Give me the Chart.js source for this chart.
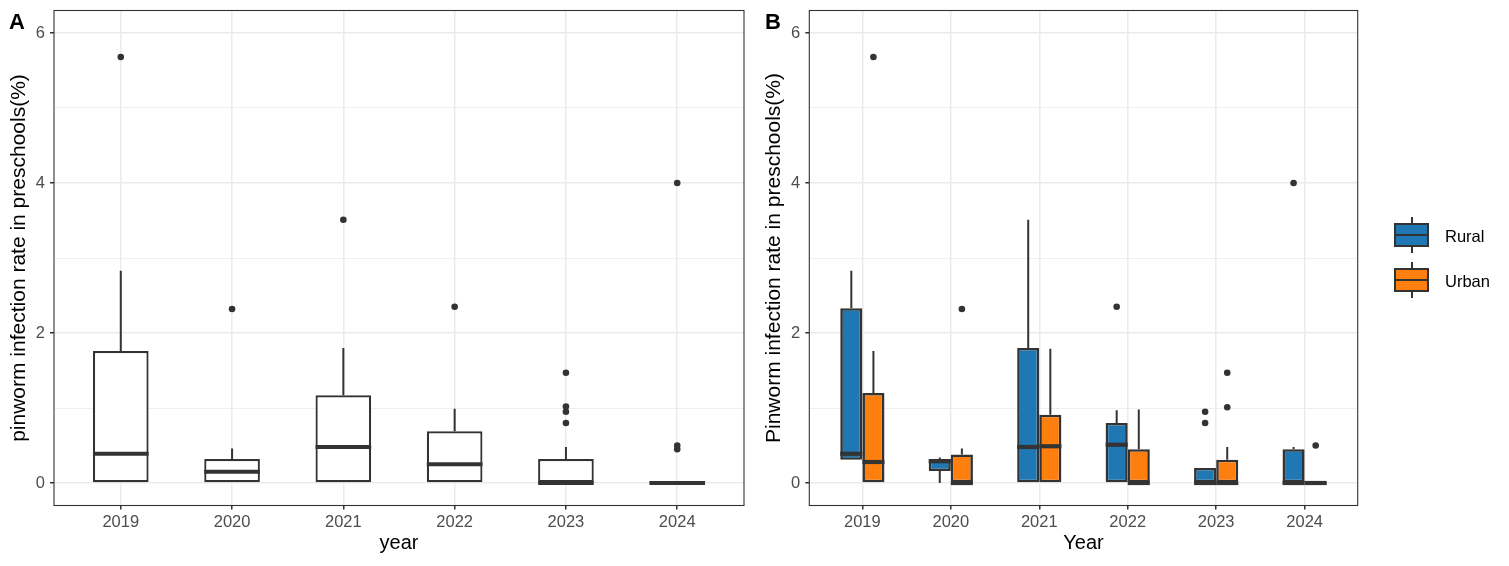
<!DOCTYPE html>
<html>
<head>
<meta charset="utf-8">
<script src="https://cdn.jsdelivr.net/npm/chart.js@4.4.1/dist/chart.umd.min.js"></script>
<style>
  body { margin: 0; background: #fff; width: 1509px; height: 566px; position: relative; overflow: hidden;
         font-family: Arial, 'Liberation Sans', sans-serif; }
  canvas { position: absolute; top: 0; }
  #chartA { left: 0; }
  #chartB { left: 755px; }
  .tag { position: absolute; top: 10.5px; font-size: 22px; font-weight: bold; line-height: 1; color: #000; }
  .key { position: absolute; }
  .whisk { position: absolute; left: 16.5px; width: 2px; height: 36px; top: 0; background: #333; }
  .kbox { position: absolute; left: 0; top: 6px; width: 35px; height: 24px; box-sizing: border-box; border: 2px solid #333; }
  .kmed { position: absolute; left: 0; top: 17px; width: 35px; height: 2px; background: #333; }
  .ktext { position: absolute; left: 51px; font-size: 16.5px; line-height: 16px; color: #000; }
</style>
</head>
<body>
<canvas id="chartA" width="755" height="566"></canvas>
<canvas id="chartB" width="754" height="566"></canvas>
<div class="tag" style="left:9px">A</div>
<div class="tag" style="left:765px">B</div>

<div class="key" style="left:1394px; top:217px">
  <div class="whisk"></div><div class="kbox" style="background:#1F77B4"></div><div class="kmed"></div>
  <div class="ktext" style="top:11px">Rural</div>
</div>
<div class="key" style="left:1394px; top:262px">
  <div class="whisk"></div><div class="kbox" style="background:#FF7F0E"></div><div class="kmed"></div>
  <div class="ktext" style="top:11px">Urban</div>
</div>

<script>
// categories and tick labels
const years = ['2019', '2020', '2021', '2022', '2023', '2024'];
const yTicks = [0, 2, 4, 6];
const yMinorTicks = [1, 3, 5];

// panel A: all preschools
const allLo  = [0, 0, 0, 0, 0, 0];
const allQ1  = [0, 0, 0, 0, 0, 0];
const allMed = [0.39, 0.15, 0.48, 0.25, 0, 0];
const allQ3  = [1.76, 0.32, 1.17, 0.69, 0.32, 0];
const allHi  = [2.83, 0.46, 1.80, 0.99, 0.48, 0];
const allOut = [[5.68], [2.32], [3.51], [2.35], [1.47, 1.02, 0.95, 0.80], [4.0, 0.50, 0.45]];

// panel B: rural
const ruralLo  = [0.31, 0, 0, 0, 0, 0];
const ruralQ1  = [0.31, 0.16, 0, 0, 0, 0];
const ruralMed = [0.39, 0.29, 0.48, 0.51, 0, 0];
const ruralQ3  = [2.33, 0.32, 1.80, 0.80, 0.20, 0.45];
const ruralHi  = [2.83, 0.34, 3.51, 0.97, 0.20, 0.48];
const ruralOut = [[], [], [], [2.35], [0.95, 0.80], [4.0]];

// panel B: urban
const urbanLo  = [0, 0, 0, 0, 0, 0];
const urbanQ1  = [0, 0, 0, 0, 0, 0];
const urbanMed = [0.28, 0, 0.49, 0, 0, 0];
const urbanQ3  = [1.20, 0.38, 0.91, 0.45, 0.31, 0];
const urbanHi  = [1.76, 0.46, 1.79, 0.98, 0.48, 0];
const urbanOut = [[5.68], [2.32], [], [], [1.47, 1.01], [0.50]];

const dark = '#333333';

Chart.defaults.font.family = "Arial, 'Liberation Sans', sans-serif";
Chart.defaults.animation = false;
Chart.defaults.events = [];
Chart.defaults.plugins.legend.display = false;
Chart.defaults.plugins.tooltip.enabled = false;

function boxData(q1, q3) {
  return q1.map((v, i) => ({ x: i, y: [v, q3[i]] }));
}

function outlierData(out, shift) {
  let pts = [];
  out.forEach((vals, i) => vals.forEach(v => pts.push({ x: i + shift, y: v })));
  return pts;
}

// whiskers, medians and panel frame, drawn from the bar elements and the y scale
function drawParts(chart, part) {
  const ctx = chart.ctx;
  const ys = chart.scales.y;
  chart.data.datasets.forEach((ds, di) => {
    if (!ds.box) return;
    const meta = chart.getDatasetMeta(di);
    meta.data.forEach((bar, i) => {
      ctx.save();
      ctx.strokeStyle = dark;
      ctx.lineCap = 'butt';
      if (part === 'whisker') {
        ctx.lineWidth = 2;
        ctx.beginPath();
        ctx.moveTo(bar.x, ys.getPixelForValue(ds.box.hi[i]));
        ctx.lineTo(bar.x, ys.getPixelForValue(ds.box.q3[i]));
        ctx.moveTo(bar.x, ys.getPixelForValue(ds.box.lo[i]));
        ctx.lineTo(bar.x, ys.getPixelForValue(ds.box.q1[i]));
        ctx.stroke();
      } else {
        const y = ys.getPixelForValue(ds.box.med[i]);
        ctx.lineWidth = 4.2;
        ctx.beginPath();
        ctx.moveTo(bar.x - bar.width / 2, y);
        ctx.lineTo(bar.x + bar.width / 2, y);
        ctx.stroke();
      }
      ctx.restore();
    });
  });
}

const boxParts = {
  id: 'boxParts',
  beforeDatasetsDraw(chart) { drawParts(chart, 'whisker'); },
  afterDatasetsDraw(chart) {
    drawParts(chart, 'median');
    const a = chart.chartArea;
    const ctx = chart.ctx;
    ctx.save();
    ctx.strokeStyle = dark;
    ctx.lineWidth = 1.1;
    ctx.strokeRect(a.left, a.top, a.right - a.left, a.bottom - a.top);
    ctx.restore();
  }
};

function xAxis(titleText) {
  return {
    type: 'linear',
    offset: false,
    min: -0.6,
    max: years.length - 0.4,
    afterBuildTicks: s => { s.ticks = years.map((y, i) => ({ value: i })); },
    afterFit: s => { s.height = 60.5; s.paddingLeft = 0; s.paddingRight = 0; },
    grid: { offset: false, color: '#EBEBEB', lineWidth: 1.5, tickColor: dark, tickLength: 4 },
    border: { display: false },
    ticks: {
      color: '#4D4D4D', font: { size: 16.5 }, padding: 3,
      maxRotation: 0, autoSkip: false,
      callback: v => years[v]
    },
    title: { display: true, text: titleText, color: '#000', font: { size: 20 }, padding: { top: 0, bottom: 11 } }
  };
}

function yAxis(titleText, width) {
  return {
    type: 'linear',
    min: -0.3,
    max: 6.3,
    afterBuildTicks: s => {
      s.ticks = yTicks.concat(yMinorTicks).sort((a, b) => a - b).map(v => ({ value: v }));
    },
    afterFit: s => { s.width = width; s.paddingTop = 0; s.paddingBottom = 0; },
    grid: {
      color: '#EBEBEB',
      lineWidth: c => (c.tick && yTicks.includes(c.tick.value)) ? 1.5 : 0.8,
      tickColor: c => (c.tick && yTicks.includes(c.tick.value)) ? dark : 'rgba(0,0,0,0)',
      tickLength: 4
    },
    border: { display: false },
    ticks: {
      color: '#4D4D4D', font: { size: 16.5 }, padding: 5,
      callback: v => yTicks.includes(v) ? String(v) : ''
    },
    title: { display: true, text: titleText, color: '#000', font: { size: 21 }, padding: { top: 7, bottom: 0 } }
  };
}

new Chart(document.getElementById('chartA'), {
  type: 'bar',
  data: {
    datasets: [
      {
        data: boxData(allQ1, allQ3),
        box: { lo: allLo, q1: allQ1, med: allMed, q3: allQ3, hi: allHi },
        backgroundColor: '#ffffff',
        borderColor: dark,
        borderWidth: 2.2,
        borderSkipped: false,
        categoryPercentage: 1,
        barPercentage: 0.5
      },
      {
        type: 'scatter',
        data: outlierData(allOut, 0),
        pointRadius: 3.3,
        pointBackgroundColor: dark,
        pointBorderWidth: 0
      }
    ]
  },
  options: {
    responsive: false,
    layout: { padding: { left: 0, top: 10.5, right: 11, bottom: 0 } },
    scales: {
      x: xAxis('year'),
      y: yAxis('pinworm infection rate in preschools(%)', 54)
    }
  },
  plugins: [boxParts]
});

new Chart(document.getElementById('chartB'), {
  type: 'bar',
  data: {
    datasets: [
      {
        label: 'Rural',
        data: boxData(ruralQ1, ruralQ3),
        box: { lo: ruralLo, q1: ruralQ1, med: ruralMed, q3: ruralQ3, hi: ruralHi },
        backgroundColor: '#1F77B4',
        borderColor: dark,
        borderWidth: 2.6,
        borderSkipped: false,
        categoryPercentage: 0.5,
        barPercentage: 1
      },
      {
        label: 'Urban',
        data: boxData(urbanQ1, urbanQ3),
        box: { lo: urbanLo, q1: urbanQ1, med: urbanMed, q3: urbanQ3, hi: urbanHi },
        backgroundColor: '#FF7F0E',
        borderColor: dark,
        borderWidth: 2.6,
        borderSkipped: false,
        categoryPercentage: 0.5,
        barPercentage: 1
      },
      {
        type: 'scatter',
        data: outlierData(ruralOut, -0.125),
        pointRadius: 3.3,
        pointBackgroundColor: dark,
        pointBorderWidth: 0
      },
      {
        type: 'scatter',
        data: outlierData(urbanOut, 0.125),
        pointRadius: 3.3,
        pointBackgroundColor: dark,
        pointBorderWidth: 0
      }
    ]
  },
  options: {
    responsive: false,
    layout: { padding: { left: 0, top: 10.5, right: 151.3, bottom: 0 } },
    scales: {
      x: xAxis('Year'),
      y: yAxis('Pinworm infection rate in preschools(%)', 54.3)
    }
  },
  plugins: [boxParts]
});
</script>
</body>
</html>
